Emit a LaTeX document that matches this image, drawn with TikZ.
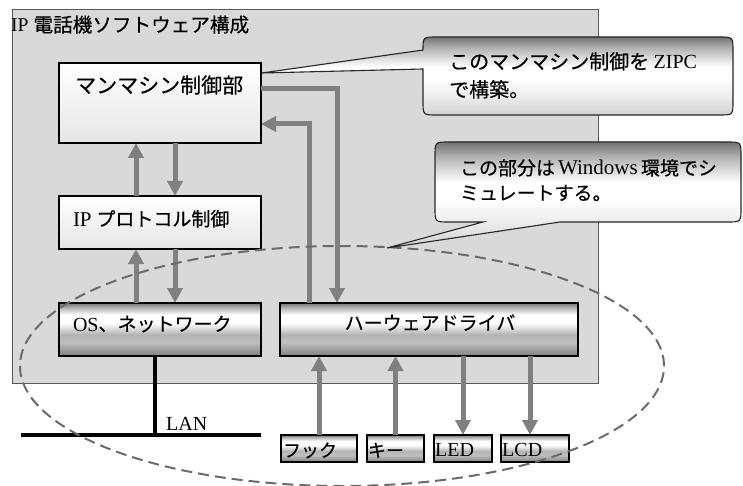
\documentclass[tikz,border=0pt]{standalone}
\usepackage{fontspec}
\setmainfont{Liberation Serif}
\newfontfamily\jp[FakeBold=0.4]{Noto Sans CJK JP}
\usetikzlibrary{arrows.meta,calc}
\pgfdeclareverticalshading{metal}{100bp}{color(0bp)=(black!50); color(25bp)=(black!50); color(30bp)=(black!40); color(38bp)=(black!25); color(45bp)=(black!30); color(56bp)=(white); color(64bp)=(white); color(71bp)=(black!32); color(75bp)=(black!55); color(100bp)=(black!55)}
\pgfdeclareverticalshading{bubble}{100bp}{color(0bp)=(black!18); color(25bp)=(black!18); color(36bp)=(black!8); color(48bp)=(white); color(56bp)=(white); color(68bp)=(black!30); color(75bp)=(black!55); color(100bp)=(black!55)}
\tikzset{
  panel/.style={draw=black!65, line width=0.8pt, fill=black!15, inner sep=0, outer sep=0},
  box/.style={draw=black, line width=1.1pt, inner sep=0, outer sep=0},
  lightbox/.style={box, top color=white, bottom color=black!10},
  metalbox/.style={box, shading=metal},
  lbl/.style={inner sep=0, outer sep=0, font=\fontsize{19}{23}\selectfont},
  small/.style={inner sep=0, outer sep=0, font=\fontsize{18}{22}\selectfont},
  garrow/.style={draw=black!50, line width=5pt, -{Triangle[width=15pt,length=15pt]}},
  lan/.style={draw=black, line width=4.5pt},
  bubbleshape/.style={draw=black!85, line width=1.1pt, shade, shading=bubble},
  ring/.style={draw=black!58, line width=2pt, dash pattern=on 11pt off 6pt}
}
\begin{document}
\begin{tikzpicture}[x=1pt,y=-1pt]
\useasboundingbox (0,0) rectangle (743,486);
% panel
\node[panel, minimum width=586pt, minimum height=374pt] (panel) at (305,196) {};
\node[inner sep=0, anchor=base west, font=\fontsize{19.6}{23}\selectfont] (title) at (11,32) {IP {\jp 電話機ソフトウェア構成}};
% boxes
\node[lightbox, minimum width=202pt, minimum height=80pt] (mm) at (160,103) {};
\node[inner sep=0, anchor=base west, font=\fontsize{21}{25}\selectfont] (mmt) at (75,93) {\jp マンマシン制御部};
\node[lightbox, minimum width=202pt, minimum height=53pt] (ip) at (160,222.5) {};
\node[lbl, anchor=base west] (ipt) at (73,226) {{\fontsize{21}{23}\selectfont IP} {\jp プロトコル制御}};
\node[metalbox, minimum width=202pt, minimum height=53pt] (os) at (160,329.5) {};
\node[lbl, anchor=base west] (ost) at (73,331) {{\fontsize{20}{23}\selectfont OS}{\jp 、ネットワーク}};
\node[metalbox, minimum width=298pt, minimum height=53pt] (hw) at (429,329.5) {};
\node[lbl, anchor=base] (hwt) at (430,330) {\jp ハーウェアドライバ};
% device boxes
\node[metalbox, minimum width=76pt, minimum height=27pt] (hook) at (319,448.5) {};
\node[metalbox, minimum width=57pt, minimum height=27pt] (key) at (395.5,448.5) {};
\node[metalbox, minimum width=58pt, minimum height=27pt] (led) at (463,448.5) {};
\node[metalbox, minimum width=68pt, minimum height=27pt] (lcd) at (535,448.5) {};
\node[small, anchor=base west] (hookt) at (283,457) {\jp フック};
\node[small, anchor=base west] (keyt) at (368,457) {\jp キー};
\node[inner sep=0, anchor=base west, font=\fontsize{20}{24}\selectfont] (ledt) at (435,456.5) {LED};
\node[inner sep=0, anchor=base west, font=\fontsize{20}{24}\selectfont] (lcdt) at (502,456.5) {LCD};
% LAN
\coordinate (lanL) at (21,435);
\coordinate (lanR) at (261,435);
\coordinate (osb) at ([xshift=96pt]os.south west);
\draw[lan] (lanL) -- (lanR);
\draw[lan] (osb) -- (osb |- lanL);
\node[inner sep=0, anchor=base west, font=\fontsize{20}{24}\selectfont] (lant) at (166,430) {LAN};
% arrows
\draw[garrow] ([xshift=77pt]ip.north west) -- ([xshift=77pt]mm.south west);
\draw[garrow] ([xshift=116pt]mm.south west) -- ([xshift=116pt]ip.north west);
\draw[garrow] ([xshift=77pt]os.north west) -- ([xshift=77pt]ip.south west);
\draw[garrow] ([xshift=116pt]ip.south west) -- ([xshift=116pt]os.north west);
\draw[garrow] ([yshift=14pt]mm.east) -| ([xshift=57pt]hw.north west);
\draw[garrow] ([xshift=29pt]hw.north west) |- ([yshift=-21pt]mm.east);
\coordinate (lcdtop) at ([xshift=-5pt]lcd.north);
\draw[garrow] (hook.north) -- (hook.north |- hw.south);
\draw[garrow] (key.north) -- (key.north |- hw.south);
\draw[garrow] (led.north |- hw.south) -- (led.north);
\draw[garrow] (lcdtop |- hw.south) -- (lcdtop);
% dashed ring
\draw[ring] (342,366) ellipse [x radius=322pt, y radius=120pt];
% callout 1
\path[bubbleshape] (262,73) -- (423,50) .. controls (423,37) .. (437,37) -- (719,37) .. controls (733,37) .. (733,51) -- (733,101) .. controls (733,115) .. (719,115) -- (437,115) .. controls (423,115) .. (423,101) -- (423,69) -- cycle;
\node[inner sep=0, anchor=base west, font=\fontsize{20}{24}\selectfont] (c1a) at (449,69) {\jp このマンマシン制御を {\rmfamily ZIPC}};
\node[inner sep=0, anchor=base west, font=\fontsize{20}{24}\selectfont] (c1b) at (449,97) {\jp で構築。};
% callout 2
\path[bubbleshape] (435,156) .. controls (435,142) .. (449,142) -- (727,142) .. controls (741,142) .. (741,156) -- (741,208) .. controls (741,222) .. (727,222) -- (560,222) -- (387,248) -- (483,222) -- (449,222) .. controls (435,222) .. (435,208) -- cycle;
\node[lbl, anchor=base west] (c2a) at (460,175) {{\jp この部分は}\,{\fontsize{21}{23}\selectfont Windows}\,{\jp 環境でシ}};
\node[lbl, anchor=base west] (c2b) at (460,200) {\jp ミュレートする。};
\end{tikzpicture}
\end{document}
